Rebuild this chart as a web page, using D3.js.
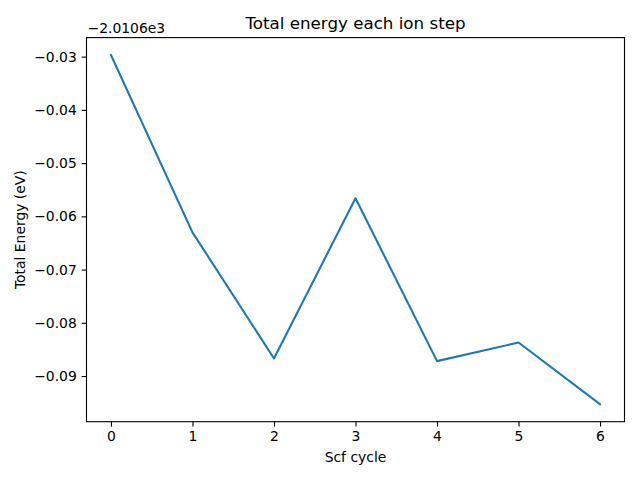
<!DOCTYPE html>
<html><head><meta charset="utf-8">
<script src="https://cdn.jsdelivr.net/npm/d3@7"></script>
<style>body{margin:0;background:#fff}svg{display:block}text{font-family:"DejaVu Sans",sans-serif;fill:#000}</style>
</head><body>
<svg id="c" width="640" height="480"></svg>
<script>
const steps = [0, 1, 2, 3, 4, 5, 6];
const energies = [-2010.6297, -2010.6630, -2010.6867, -2010.6566, -2010.6872, -2010.6837, -2010.6953];
const offset = -2010.6;
const offsetLabel = "\u22122.0106e3";
const xTicks = [0, 1, 2, 3, 4, 5, 6];
const yTicks = [-0.03, -0.04, -0.05, -0.06, -0.07, -0.08, -0.09];
const title = "Total energy each ion step";
const xLabel = "Scf cycle";
const yLabel = "Total Energy (eV)";

const svg = d3.select("#c");
const L = 86.5, R = 624.5, T = 37.6, B = 421.7;
const rel = energies.map(e => e - offset);
const ymin = d3.min(rel), ymax = d3.max(rel);
const ym = (ymax - ymin) * 0.05;
const x = d3.scaleLinear().domain([-0.3, 6.3]).range([L, R]);
const y = d3.scaleLinear().domain([ymin - ym, ymax + ym]).range([B, T]);
const fmtY = d => (d < 0 ? "\u2212" : "") + Math.abs(d).toFixed(2);

const line = d3.line().x((d, i) => x(steps[i])).y(d => y(d));
svg.append("path").datum(rel).attr("d", line)
  .attr("fill", "none").attr("stroke", "#1f77b4").attr("stroke-width", 2.08)
  .attr("stroke-linejoin", "round").attr("stroke-linecap", "square");

const xa = svg.append("g").attr("transform", `translate(0,${B})`)
  .call(d3.axisBottom(x).tickValues(xTicks).tickFormat(d3.format("d")).tickSize(4.86).tickPadding(4.86));
const ya = svg.append("g").attr("transform", `translate(${L},0)`)
  .call(d3.axisLeft(y).tickValues(yTicks).tickFormat(fmtY).tickSize(4.86).tickPadding(4.86));
[xa, ya].forEach(g => {
  g.select(".domain").remove();
  g.selectAll("line").attr("stroke", "#000").attr("stroke-width", 1.11);
  g.selectAll("text").style("font-size", "13.9px").style("font-family", "DejaVu Sans");
});
svg.append("rect").attr("x", L).attr("y", T).attr("width", R - L).attr("height", B - T)
  .attr("fill", "none").attr("stroke", "#000").attr("stroke-width", 1.11);

svg.append("text").attr("x", (L + R) / 2).attr("y", 29).attr("text-anchor", "middle")
  .style("font-size", "16.7px").text(title);
svg.append("text").attr("x", (L + R) / 2).attr("y", 462).attr("text-anchor", "middle")
  .style("font-size", "13.9px").text(xLabel);
svg.append("text").attr("transform", `translate(25,${(T + B) / 2}) rotate(-90)`).attr("text-anchor", "middle")
  .style("font-size", "13.9px").text(yLabel);
svg.append("text").attr("x", L + 1).attr("y", 33).style("font-size", "13.9px").text(offsetLabel);
</script>
</body></html>
